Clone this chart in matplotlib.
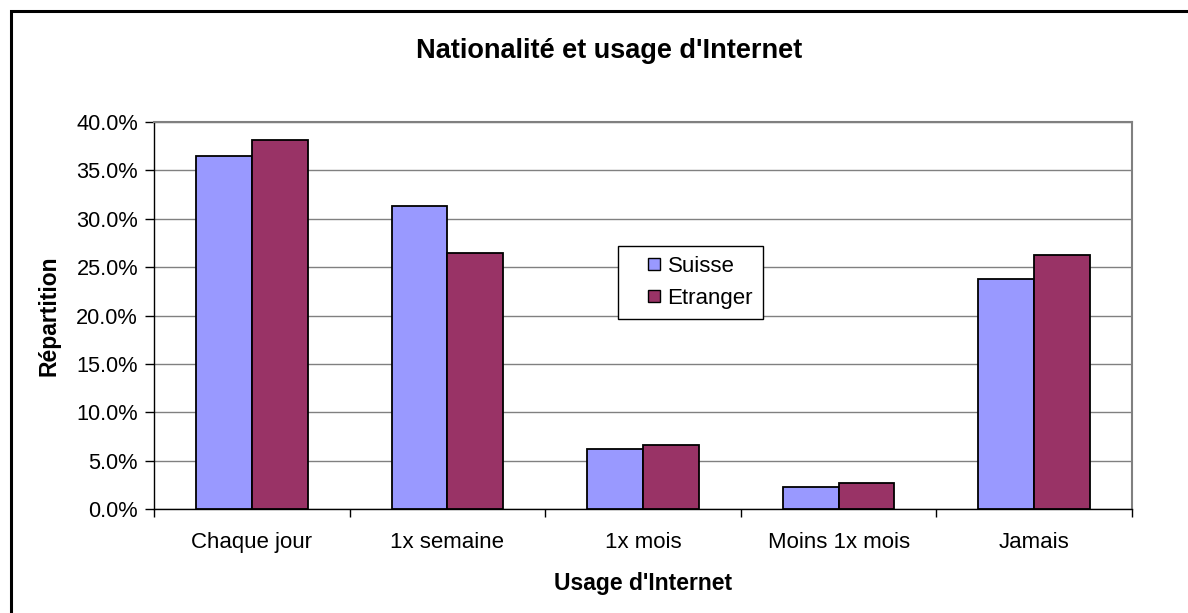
import numpy as np
from matplotlib import pyplot as plt
from matplotlib.patches import Rectangle
from matplotlib.lines import Line2D
from matplotlib.ticker import FuncFormatter, FixedLocator

plt.rcParams['font.family'] = ['Liberation Sans', 'DejaVu Sans']

# data
categories = ["Chaque jour", "1x semaine", "1x mois", "Moins 1x mois", "Jamais"]
suisse = [36.5, 31.3, 6.2, 2.3, 23.8]
etranger = [38.1, 26.5, 6.6, 2.7, 26.3]
series_names = ["Suisse", "Etranger"]
colors = ['#9999FF', '#993366']

W, H = 1188, 613
fig = plt.figure(figsize=(W / 100, H / 100), dpi=100)
ax = fig.add_axes([154 / W, 1 - 509 / H, (1132 - 154) / W, (509 - 122) / H])

# outer chart frame (cut by the image edges on right and bottom)
fig.add_artist(Rectangle((10.5 / W, -0.2), 2, 1.2 - 10.5 / H, transform=fig.transFigure,
                         fill=False, edgecolor='black', lw=2.2))

x = np.arange(len(categories))
bw = 1 / 3.5
ax.bar(x - bw / 2, suisse, bw, color=colors[0], edgecolor='black', lw=1.3, zorder=3)
ax.bar(x + bw / 2, etranger, bw, color=colors[1], edgecolor='black', lw=1.3, zorder=3)

ax.set_xlim(-0.5, len(categories) - 0.5)
ax.set_ylim(0, 40)
ax.set_yticks(np.arange(0, 40.1, 5))
ax.yaxis.set_major_formatter(FuncFormatter(lambda v, p: f"{v:.1f}%"))
ax.grid(axis='y', color='#808080', lw=1, zorder=0)

ax.set_xticks(x)
ax.set_xticklabels(categories)
ax.xaxis.set_minor_locator(FixedLocator(np.arange(-0.5, len(categories), 1)))
ax.tick_params(axis='x', which='major', length=0, pad=16.5, labelsize=16)
ax.tick_params(axis='x', which='minor', length=5.5, width=1, direction='out')
ax.tick_params(axis='y', length=6.5, width=1, direction='out', pad=5, labelsize=15.7)

for s in ['top', 'right']:
    ax.spines[s].set_color('#808080')
    ax.spines[s].set_linewidth(1.5)
for s in ['left', 'bottom']:
    ax.spines[s].set_color('black')
    ax.spines[s].set_linewidth(1)

ax.set_xlabel("Usage d'Internet", fontsize=16.5, fontweight='bold', labelpad=13.5)
ax.set_ylabel("Répartition", fontsize=16.5, fontweight='bold', labelpad=11.5)
fig.text(609 / W, 1 - 51 / H, "Nationalité et usage d'Internet", ha='center', va='center',
         fontsize=19.5, fontweight='bold')

handles = [Line2D([], [], ls='none', marker='s', markersize=8.6, markerfacecolor=c,
                  markeredgecolor='black', markeredgewidth=1) for c in colors]
leg = ax.legend(handles, series_names, loc='upper left', bbox_to_anchor=(0.474, 0.680),
                fontsize=16, fancybox=False, edgecolor='black', framealpha=1,
                handlelength=2.34, handletextpad=-0.54, borderpad=0.45, labelspacing=0.5,
                borderaxespad=0)
leg.get_frame().set_linewidth(1)

fig.savefig("out.png", dpi=100)
